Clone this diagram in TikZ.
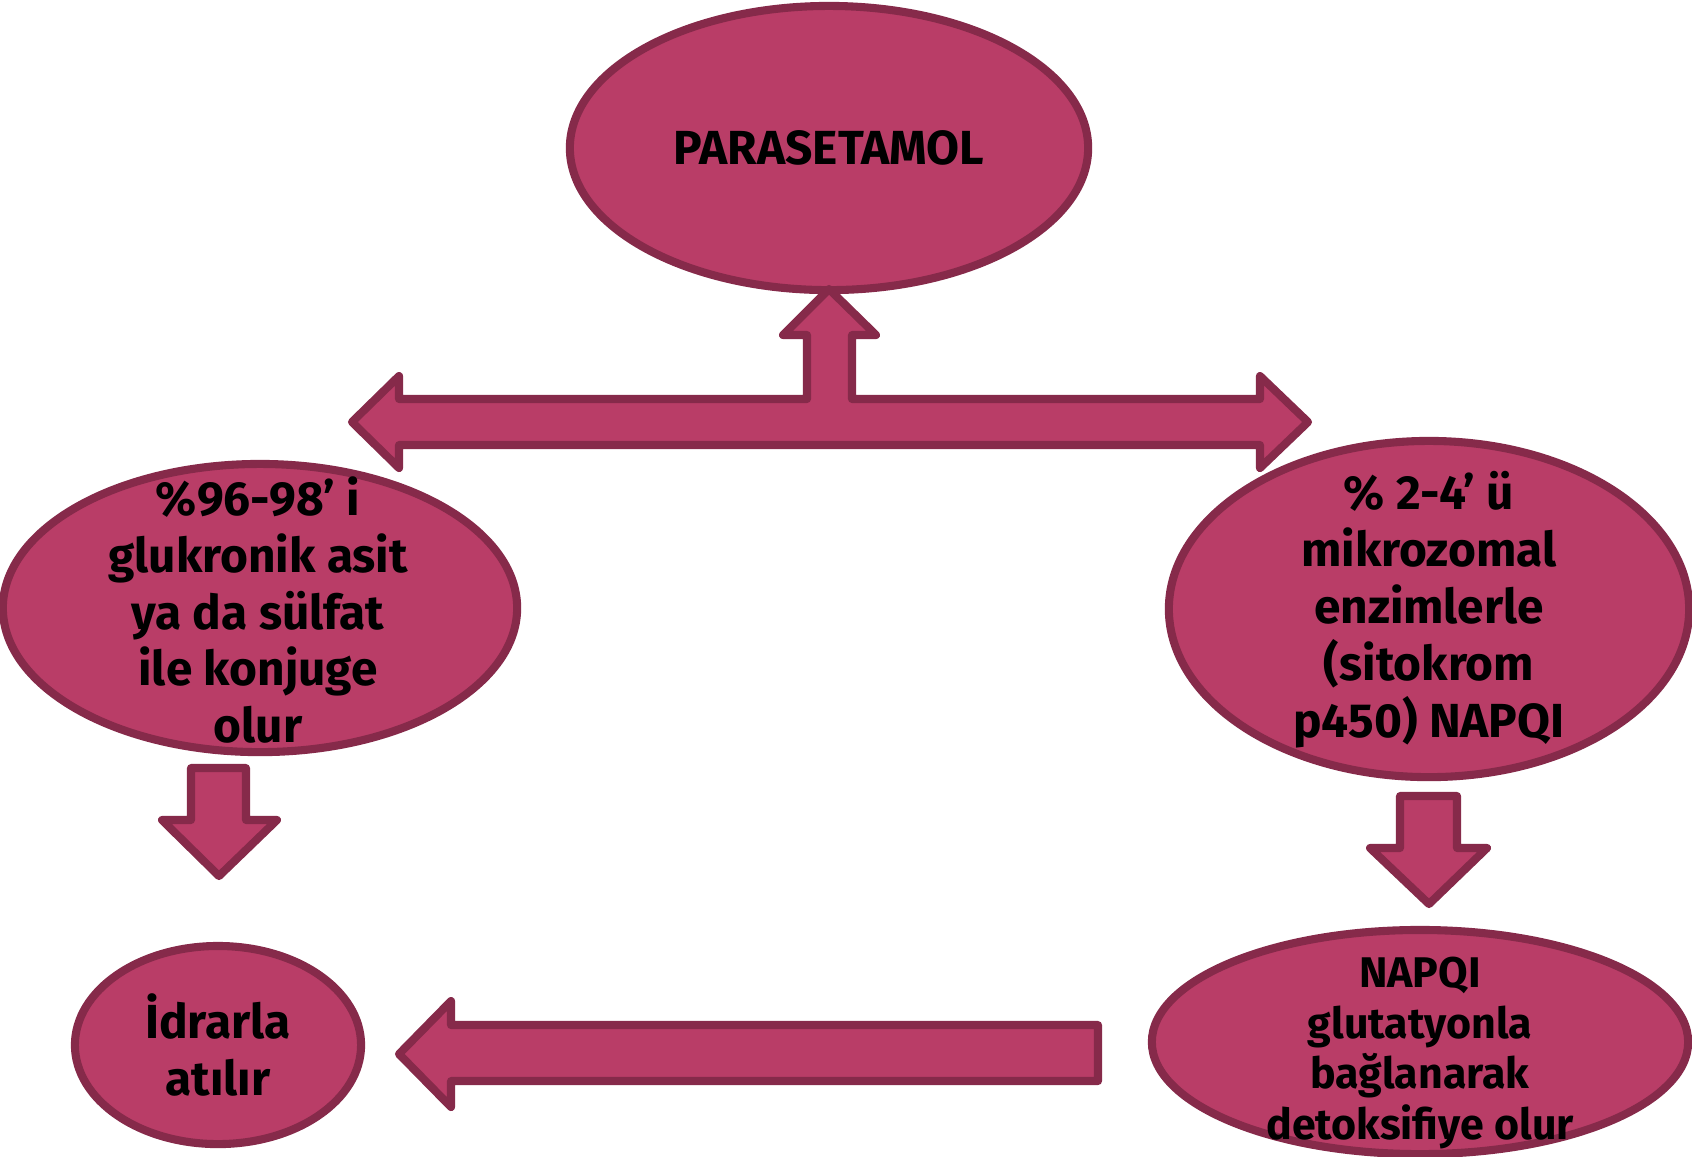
\documentclass[tikz,border=0pt]{standalone}
\usepackage{fontspec}
\setmainfont{Fira Sans}
\usetikzlibrary{shapes.geometric}
\definecolor{rosefill}{HTML}{B93D67}
\definecolor{roseline}{HTML}{862A4A}
\tikzset{
  blob/.style={ellipse, draw=roseline, fill=rosefill, line width=2.3pt, inner sep=0pt},
  blockarrow/.style={draw=roseline, fill=rosefill, line width=2.3pt, line join=round},
  lbl/.style={align=center, font=\bfseries\fontsize{13.6}{16.2}\selectfont},
  lbltight/.style={align=center, font=\bfseries\fontsize{12.2}{14.4}\selectfont}
}
\begin{document}
\begin{tikzpicture}[x=0.01cm, y=-0.01cm]
  \useasboundingbox (0,0) rectangle (1692,1156);
  \node[blob, minimum width=5.18cm, minimum height=2.84cm] (para) at (829,148) {};
  \node[blob, minimum width=5.14cm, minimum height=2.88cm] (conj) at (260,608) {};
  \node[blob, minimum width=5.20cm, minimum height=3.36cm] (micro) at (1429,609) {};
  \node[blob, minimum width=2.86cm, minimum height=1.98cm] (urine) at (218,1045) {};
  \node[blob, minimum width=5.36cm, minimum height=2.24cm] (detox) at (1420,1042) {};
  \node[lbl] (paratext) at (para) {PARASETAMOL};
  \node[lbl] (conjtext) at (258,610) {\%96-98’ i\\glukronik asit\\ya da sülfat\\ile konjuge\\olur};
  \node[lbl] (microtext) at (1429,610) {\% 2-4’ ü\\mikrozomal\\enzimlerle\\(sitokrom\\p450) NAPQI};
  \node[lbl] (urinetext) at (218,1045) {İdrarla\\atılır};
  \node[lbltight] (detoxtext) at (1420,1053) {NAPQI\\glutatyonla\\bağlanarak\\detoksifiye olur};
  % block arrows
  \draw[blockarrow] (829,289) -- (876,335) -- (852,335) -- (852,399) -- (1260,399)
    -- (1260,376) -- (1308,422) -- (1260,468) -- (1260,445) -- (399,445) -- (399,468)
    -- (352,422) -- (399,376) -- (399,399) -- (807,399) -- (807,335) -- (783,335) -- cycle;
  \draw[blockarrow] (191,768) -- (246,768) -- (246,820) -- (277,820) -- (219,876)
    -- (162,820) -- (191,820) -- cycle;
  \draw[blockarrow] (1400,796) -- (1457,796) -- (1457,848) -- (1487,848) -- (1429,904)
    -- (1370,848) -- (1400,848) -- cycle;
  \draw[blockarrow] (1098,1025) -- (1098,1081) -- (451,1081) -- (451,1107) -- (399,1054)
    -- (451,1001) -- (451,1025) -- cycle;
\end{tikzpicture}
\end{document}
